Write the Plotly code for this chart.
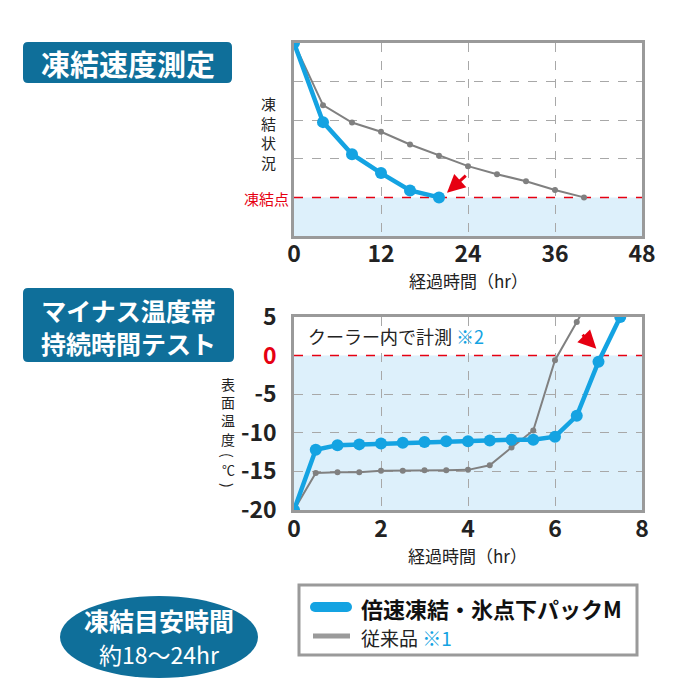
import plotly.graph_objects as go

W = 700
H = 700
FONT = "Noto Sans CJK JP"
BLUE = "#14a3e2"
GRAY = "#808080"
NAVY = "#0f6f9a"
RED = "#e60012"
SHADE = "#ddf0fb"
GRID = "#a8a8a8"

# 凍結速度測定 (top chart)
speed_new_hours = [0, 4, 8, 12, 16, 20]
speed_new = [5, 2.95, 2.12, 1.63, 1.18, 1.0]
speed_old_hours = [0, 4, 8, 12, 16, 20, 24, 28, 32, 36, 40]
speed_old = [5, 3.39, 2.94, 2.70, 2.37, 2.08, 1.81, 1.60, 1.42, 1.19, 1.0]
speed_ticks = [0, 12, 24, 36, 48]
freeze_level = 1

# マイナス温度帯持続時間テスト (bottom chart)
temp_new_hours = [0, 0.5, 1, 1.5, 2, 2.5, 3, 3.5, 4, 4.5, 5, 5.5, 6, 6.5, 7, 7.5]
temp_new = [-20, -12.2, -11.6, -11.5, -11.4, -11.3, -11.2, -11.1, -11.1, -11.0,
            -10.9, -10.9, -10.5, -7.8, -0.8, 5.0]
temp_old_hours = [0, 0.5, 1, 1.5, 2, 2.5, 3, 3.5, 4, 4.5, 5, 5.5, 6, 6.5, 7]
temp_old = [-20, -15.2, -15.1, -15.1, -14.9, -14.9, -14.85, -14.85, -14.8, -14.2,
            -11.9, -9.7, -0.6, 4.35, 9.3]
temp_ticks = [-20, -15, -10, -5, 0, 5]
temp_ticktext = ["-20", "-15", "-10", "-5", f"<span style='color:{RED}'>0</span>", "5"]


def px(x):
    return x / W


def py(y):
    return 1 - y / H


def rounded_box(x0, y0, x1, y1, r):
    # path in paper units, pixel inputs
    X0, X1 = px(x0), px(x1)
    Y0, Y1 = py(y0), py(y1)
    R = r / W
    return (f"M {X0+R},{Y0} L {X1-R},{Y0} Q {X1},{Y0} {X1},{Y0-R} "
            f"L {X1},{Y1+R} Q {X1},{Y1} {X1-R},{Y1} L {X0+R},{Y1} "
            f"Q {X0},{Y1} {X0},{Y1+R} L {X0},{Y0-R} Q {X0},{Y0} {X0+R},{Y0} Z")


fig = go.Figure()

fig.add_trace(go.Scatter(x=speed_old_hours, y=speed_old, mode="lines+markers",
                         line=dict(color=GRAY, width=2), marker=dict(size=6, color=GRAY),
                         xaxis="x", yaxis="y", showlegend=False))
fig.add_trace(go.Scatter(x=speed_new_hours, y=speed_new, mode="lines+markers",
                         line=dict(color=BLUE, width=4.5), marker=dict(size=12, color=BLUE),
                         xaxis="x", yaxis="y", showlegend=False))
fig.add_trace(go.Scatter(x=temp_old_hours, y=temp_old, mode="lines+markers",
                         line=dict(color=GRAY, width=2), marker=dict(size=6, color=GRAY),
                         xaxis="x2", yaxis="y2", showlegend=False))
fig.add_trace(go.Scatter(x=temp_new_hours, y=temp_new, mode="lines+markers",
                         line=dict(color=BLUE, width=4.5), marker=dict(size=12, color=BLUE),
                         xaxis="x2", yaxis="y2", showlegend=False))

axis_common = dict(showgrid=True, gridcolor=GRID, griddash="dash", gridwidth=1,
                   showline=True, mirror=True, linecolor="#9a9a9a", linewidth=2.5,
                   zeroline=False, ticks="", fixedrange=True, automargin=False,
                   tickfont=dict(family=FONT, size=23, color="#222", weight="bold"))

shapes = []
annotations = []

# shaded areas below freezing and the red dashed lines
shapes.append(dict(type="rect", xref="x", yref="y", x0=speed_ticks[0], x1=speed_ticks[-1],
                   y0=0, y1=freeze_level, fillcolor=SHADE, line=dict(width=0), layer="below"))
shapes.append(dict(type="rect", xref="x2", yref="y2", x0=0, x1=8,
                   y0=temp_ticks[0], y1=0, fillcolor=SHADE, line=dict(width=0), layer="below"))
shapes.append(dict(type="line", xref="x", yref="y", x0=speed_ticks[0], x1=speed_ticks[-1],
                   y0=freeze_level, y1=freeze_level, line=dict(color=RED, width=1.5, dash="dash"),
                   layer="between"))
shapes.append(dict(type="line", xref="x2", yref="y2", x0=0, x1=8, y0=0, y1=0,
                   line=dict(color=RED, width=1.5, dash="dash"), layer="between"))

# red arrows
annotations.append(dict(xref="x", yref="y", axref="x", ayref="y", x=21.1, y=1.12,
                        ax=23.9, ay=1.6, text="", showarrow=True, arrowhead=2,
                        arrowsize=1.2, arrowwidth=3, arrowcolor=RED))
annotations.append(dict(xref="x2", yref="y2", axref="x2", ayref="y2", x=6.95, y=0.9,
                        ax=6.6, ay=2.9, text="", showarrow=True, arrowhead=2,
                        arrowsize=1.2, arrowwidth=3, arrowcolor=RED))

# header boxes
shapes.append(dict(type="path", xref="paper", yref="paper", path=rounded_box(23, 42, 232, 83, 5),
                   fillcolor=NAVY, line=dict(width=0)))
shapes.append(dict(type="path", xref="paper", yref="paper", path=rounded_box(23, 288, 234, 362, 5),
                   fillcolor=NAVY, line=dict(width=0)))
# ellipse
shapes.append(dict(type="circle", xref="paper", yref="paper", x0=px(60), x1=px(258),
                   y0=py(678), y1=py(596), fillcolor=NAVY, line=dict(width=0)))
# legend box
shapes.append(dict(type="rect", xref="paper", yref="paper", x0=px(299), x1=px(637),
                   y0=py(655), y1=py(585), fillcolor="white", line=dict(color="#9a9a9a", width=3)))
shapes.append(dict(type="line", xref="paper", yref="paper", x0=px(315), x1=px(347),
                   y0=py(607), y1=py(607), line=dict(color=BLUE, width=10)))
for cx in (315, 347):
    shapes.append(dict(type="circle", xref="paper", yref="paper", x0=px(cx - 5), x1=px(cx + 5),
                       y0=py(612), y1=py(602), fillcolor=BLUE, line=dict(width=0)))
shapes.append(dict(type="line", xref="paper", yref="paper", x0=px(313), x1=px(350),
                   y0=py(636), y1=py(636), line=dict(color="#9a9a9a", width=5)))


def label(text, x, y, size, color="#222", xanchor="center", bold=False, angle=0):
    annotations.append(dict(xref="paper", yref="paper", x=px(x), y=py(y), text=text,
                            showarrow=False, xanchor=xanchor, yanchor="middle",
                            textangle=angle,
                            font=dict(family=FONT, size=size, color=color,
                                      weight="bold" if bold else "normal")))


label("凍結速度測定", 127.5, 62.5, 29, "white", bold=True)
label("マイナス温度帯<br>持続時間テスト", 128.5, 326, 25, "white", bold=True)
label("<b>凍結目安時間</b><br><span style='font-size:23px'>約18〜24hr</span>",
      159, 636, 25, "white")

# vertical axis titles (one character per line)
label("<br>".join("凍結状況"), 268, 133, 15)
label("<br>".join("表面温度"), 228, 411.5, 14)
label("(", 228, 455, 14, angle=90)
label("℃", 228, 470, 13)
label(")", 228, 485, 14, angle=90)

label("凍結点", 291, 198, 15, RED, xanchor="right")
label("経過時間（hr）", 468, 280, 17)
label("経過時間（hr）", 467, 555, 17)
label(f"クーラー内で計測 <span style='color:{BLUE}'>※2</span>", 306, 336, 18, xanchor="left")

label("倍速凍結・氷点下パックM", 359, 608, 22, "#111", xanchor="left", bold=True)
label(f"従来品 <span style='color:{BLUE}'>※1</span>", 359, 637, 19, xanchor="left")

fig.update_layout(
    width=W, height=H,
    margin=dict(l=0, r=0, t=0, b=0, pad=0, autoexpand=False),
    paper_bgcolor="white", plot_bgcolor="white",
    showlegend=False,
    xaxis=dict(axis_common, domain=[px(294), px(642)], range=[0, 48],
               tickvals=speed_ticks, anchor="y", ticklabelstandoff=-4),
    yaxis=dict(axis_common, domain=[py(236), py(43)], range=[0, 5], dtick=1,
               showticklabels=False, anchor="x"),
    xaxis2=dict(axis_common, domain=[px(294), px(642)], range=[0, 8], dtick=2,
                anchor="y2", ticklabelstandoff=-3),
    yaxis2=dict(axis_common, domain=[py(510), py(317)], range=[-20, 5],
                tickvals=temp_ticks, ticktext=temp_ticktext, anchor="x2",
                ticklabelstandoff=10),
    shapes=shapes,
    annotations=annotations,
)

fig.write_html("out.html", config={"displayModeBar": False},
               post_script="document.body.style.margin = '0px';")
